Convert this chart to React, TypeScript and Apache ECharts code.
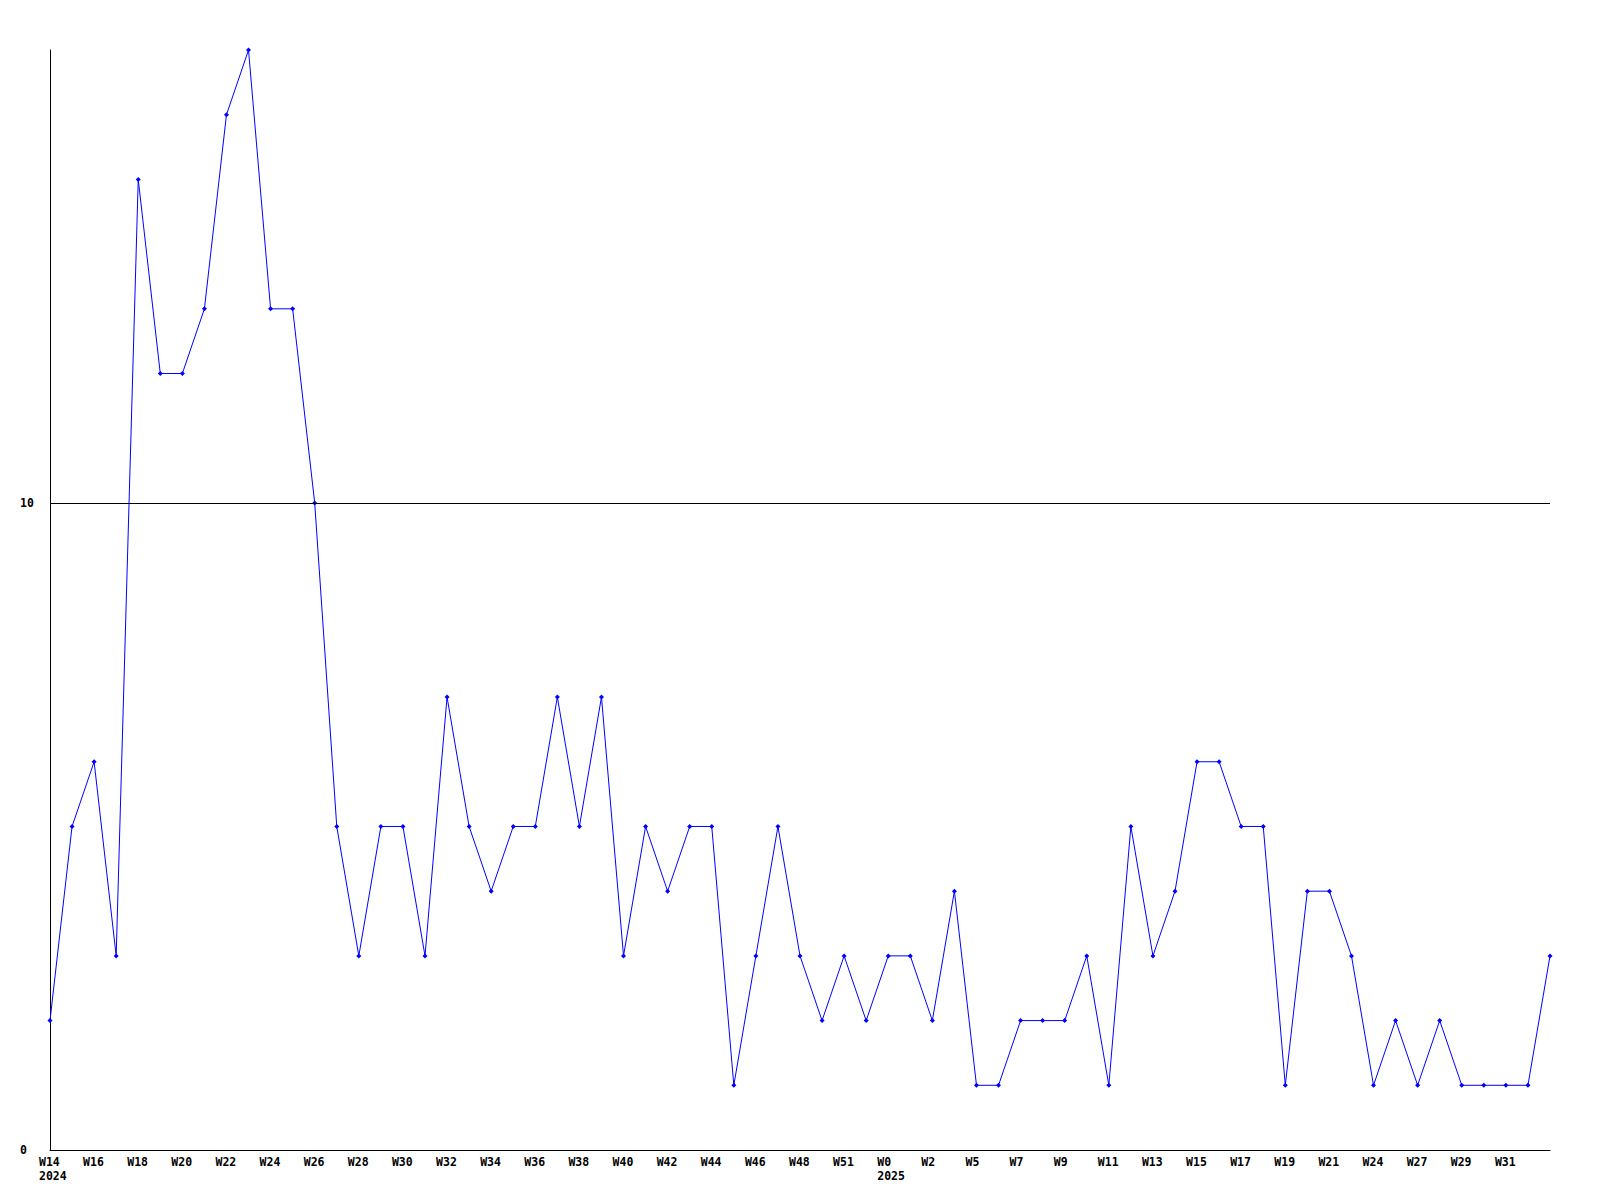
import React, { useEffect, useRef } from "react";
import * as echarts from "echarts";

// Category ids: year-week for each plotted point
const categories: string[] = [
  "2024-W14", "2024-W15", "2024-W16", "2024-W17", "2024-W18", "2024-W19", "2024-W20", "2024-W21",
  "2024-W22", "2024-W23", "2024-W24", "2024-W25", "2024-W26", "2024-W27", "2024-W28", "2024-W29",
  "2024-W30", "2024-W31", "2024-W32", "2024-W33", "2024-W34", "2024-W35", "2024-W36", "2024-W37",
  "2024-W38", "2024-W39", "2024-W40", "2024-W41", "2024-W42", "2024-W43", "2024-W44", "2024-W45",
  "2024-W46", "2024-W47", "2024-W48", "2024-W50", "2024-W51", "2024-W52", "2025-W0", "2025-W1",
  "2025-W2", "2025-W4", "2025-W5", "2025-W6", "2025-W7", "2025-W8", "2025-W9", "2025-W10",
  "2025-W11", "2025-W12", "2025-W13", "2025-W14", "2025-W15", "2025-W16", "2025-W17", "2025-W18",
  "2025-W19", "2025-W20", "2025-W21", "2025-W23", "2025-W24", "2025-W26", "2025-W27", "2025-W28",
  "2025-W29", "2025-W30", "2025-W31", "2025-W32", "2025-W33",
];

// Series values
const values: number[] = [
  2, 5, 6, 3, 15, 12, 12, 13, 16, 17, 13, 13, 10, 5, 3, 5,
  5, 3, 7, 5, 4, 5, 5, 7, 5, 7, 3, 5, 4, 5, 5, 1,
  3, 5, 3, 2, 3, 2, 3, 3, 2, 4, 1, 1, 2, 2, 2, 3,
  1, 5, 3, 4, 6, 6, 5, 5, 1, 4, 4, 3, 1, 2, 1, 2,
  1, 1, 1, 1, 3,
];

// Y tick labels shown
const yTickValues: number[] = [0, 10];
const yMax = 17;
const lastLabeledIndex = 66;

const FONT = "'DejaVu Sans Mono', 'Liberation Mono', monospace";

export default function App() {
  const ref = useRef<HTMLDivElement>(null);

  useEffect(() => {
    if (!ref.current) return;
    const chart = echarts.init(ref.current, null, { renderer: "svg" });
    const option: any = {
      animation: false,
      backgroundColor: "#ffffff",
      grid: { left: 50, right: 50, top: 50, bottom: 50, containLabel: false },
      xAxis: {
        type: "category",
        data: categories,
        boundaryGap: false,
        axisLine: { show: true, lineStyle: { color: "#000", width: 1 } },
        axisTick: { show: false },
        splitLine: { show: false },
        axisLabel: {
          interval: (index: number) => index % 2 === 0 && index <= lastLabeledIndex,
          margin: 5,
          align: "center",
          formatter: (value: string, index: number) => {
            const [year, week] = value.split("-");
            const prev = index > 0 ? categories[index - 1].split("-")[0] : null;
            if (index === 0 || prev !== year) {
              return `{w|${week}}\n{w|${year}}`;
            }
            return `{w|${week}}`;
          },
          rich: {
            w: {
              width: 22,
              align: "left",
              fontFamily: FONT,
              fontSize: 11.5,
              fontWeight: "bold",
              lineHeight: 14,
              color: "#000",
            },
          },
        },
      },
      yAxis: {
        type: "value",
        min: 0,
        max: yMax,
        interval: 10,
        axisLine: { show: true, lineStyle: { color: "#000", width: 1 } },
        axisTick: { show: false },
        splitLine: { show: false },
        axisLabel: {
          align: "left",
          margin: 30,
          color: "#000",
          fontFamily: FONT,
          fontSize: 11.5,
          fontWeight: "bold",
          formatter: (v: number) => (yTickValues.includes(v) ? String(v) : ""),
        },
      },
      series: [
        {
          type: "line",
          data: values,
          symbol: "diamond",
          symbolSize: 5,
          showSymbol: true,
          itemStyle: { color: "#0000ff" },
          lineStyle: { color: "#0000ff", width: 1 },
          markLine: {
            silent: true,
            symbol: "none",
            label: { show: false },
            lineStyle: { color: "#000", width: 1, type: "solid" },
            data: yTickValues.filter((v) => v > 0).map((v) => ({ yAxis: v })),
          },
        },
      ],
    };
    chart.setOption(option);
    return () => chart.dispose();
  }, []);

  return (
    <div
      ref={ref}
      style={{ position: "absolute", left: 0, top: 0, width: 1600, height: 1200 }}
    />
  );
}
